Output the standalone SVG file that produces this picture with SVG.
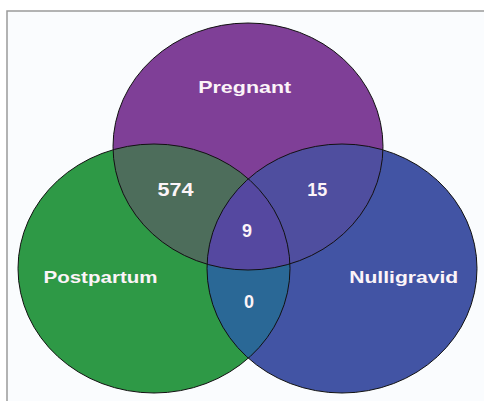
<svg xmlns="http://www.w3.org/2000/svg" width="484" height="401" viewBox="0 0 484 401">
<style>
.lbl{font-family:"Liberation Sans",Arial,sans-serif;font-weight:bold;font-size:17px;fill:#FCF4F8;text-anchor:middle}
.num{font-family:"Liberation Sans",Arial,sans-serif;font-weight:bold;font-size:18px;fill:#FCF4F8;text-anchor:middle}
.edge{fill:none;stroke:#111;stroke-width:1}
</style>
<defs>
<ellipse id="eP" cx="248" cy="146.5" rx="135" ry="123.5"/>
<ellipse id="eG" cx="154" cy="268.5" rx="136" ry="124.5"/>
<ellipse id="eB" cx="342" cy="268.5" rx="135" ry="124.5"/>
<clipPath id="cP"><use href="#eP"/></clipPath>
<clipPath id="cG"><use href="#eG"/></clipPath>
<clipPath id="cB"><use href="#eB"/></clipPath>
</defs>
<rect x="0" y="0" width="484" height="401" fill="#ffffff"/>
<rect x="7" y="11" width="490" height="400" fill="#FAFCFE" stroke="#9A9A9A" stroke-width="1.5"/>
<g id="regions">
<use href="#eG" fill="#2E9946"/>
<use href="#eB" fill="#4254A4"/>
<use href="#eP" fill="#7F3F97"/>
<g clip-path="url(#cG)"><use href="#eP" fill="#4D6D5B"/></g>
<g clip-path="url(#cB)"><use href="#eP" fill="#4F4E9F"/></g>
<g clip-path="url(#cG)"><use href="#eB" fill="#2A6896"/></g>
<g clip-path="url(#cG)"><g clip-path="url(#cB)"><use href="#eP" fill="#5548A0"/></g></g>
</g>
<g id="pregnant"><use href="#eP" class="edge"/><text class="lbl" x="244.7" y="93" textLength="93" lengthAdjust="spacingAndGlyphs">Pregnant</text></g>
<g id="postpartum"><use href="#eG" class="edge"/><text class="lbl" x="100.5" y="282.7" textLength="114" lengthAdjust="spacingAndGlyphs">Postpartum</text></g>
<g id="nulligravid"><use href="#eB" class="edge"/><text class="lbl" x="403.7" y="282.7" textLength="109" lengthAdjust="spacingAndGlyphs">Nulligravid</text></g>
<g id="counts">
<text class="num" x="175.5" y="195.7" textLength="36" lengthAdjust="spacingAndGlyphs">574</text>
<text class="num" x="317.2" y="195.7" textLength="20" lengthAdjust="spacingAndGlyphs">15</text>
<text class="num" x="247" y="236.5">9</text>
<text class="num" x="249" y="308">0</text>
</g>
</svg>
